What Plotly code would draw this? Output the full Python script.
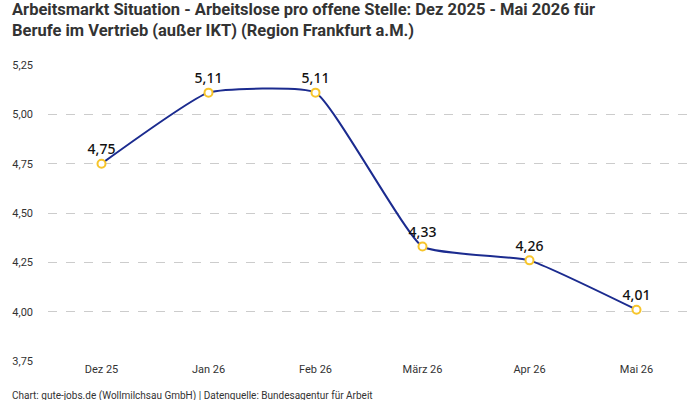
import plotly.graph_objects as go

months = ["Dez 25", "Jan 26", "Feb 26", "März 26", "Apr 26", "Mai 26"]
values = [4.75, 5.11, 5.11, 4.33, 4.26, 4.01]
labels = ["4,75", "5,11", "5,11", "4,33", "4,26", "4,01"]
yticks = [3.75, 4.00, 4.25, 4.50, 4.75, 5.00, 5.25]
yticklabels = ["3,75", "4,00", "4,25", "4,50", "4,75", "5,00", "5,25"]

FONT = "Roboto, sans-serif"

fig = go.Figure()
fig.add_trace(go.Scatter(
    x=list(range(len(months))), y=values,
    mode="lines+markers+text",
    line=dict(color="#1b2b8f", width=2, shape="spline", smoothing=0.4),
    marker=dict(size=8, color="white", line=dict(color="#f7c52b", width=2)),
    text=labels, textposition="top center",
    textfont=dict(family="Noto Sans, sans-serif", size=14, color="#111", weight=500),
    cliponaxis=False, hoverinfo="skip",
))

fig.update_layout(
    width=700, height=400,
    margin=dict(l=48, r=10, t=65, b=39),
    paper_bgcolor="white", plot_bgcolor="white",
    showlegend=False,
    xaxis=dict(
        range=[-0.5, 5.5], tickvals=list(range(len(months))), ticktext=months,
        showgrid=False, zeroline=False, showline=False,
        tickfont=dict(family=FONT, size=11, color="#333"),
    ),
    yaxis=dict(
        range=[3.75, 5.25], tickvals=yticks, ticktext=yticklabels,
        showgrid=True, gridcolor="#cccccc", griddash="dash", gridwidth=1,
        zeroline=False, showline=False, ticklen=0, ticklabelstandoff=14,
        tickfont=dict(family=FONT, size=11, color="#333"),
    ),
    annotations=[
        dict(
            text="<b>Arbeitsmarkt Situation - Arbeitslose pro offene Stelle: Dez 2025 - Mai 2026 für<br>Berufe im Vertrieb (außer IKT) (Region Frankfurt a.M.)</b>",
            xref="paper", yref="paper", x=-0.0585, y=1.0 + 67 / 296, xanchor="left", yanchor="top",
            align="left", showarrow=False,
            font=dict(family=FONT, size=16.5, color="#333"),
        ),
        dict(
            text="Chart: gute-jobs.de (Wollmilchsau GmbH) | Datenquelle: Bundesagentur für Arbeit",
            xref="paper", yref="paper", x=-0.0585, y=-0.09, xanchor="left", yanchor="top",
            showarrow=False,
            font=dict(family=FONT, size=10, color="#333"),
        ),
    ],
)

fig.write_html("out.html")
